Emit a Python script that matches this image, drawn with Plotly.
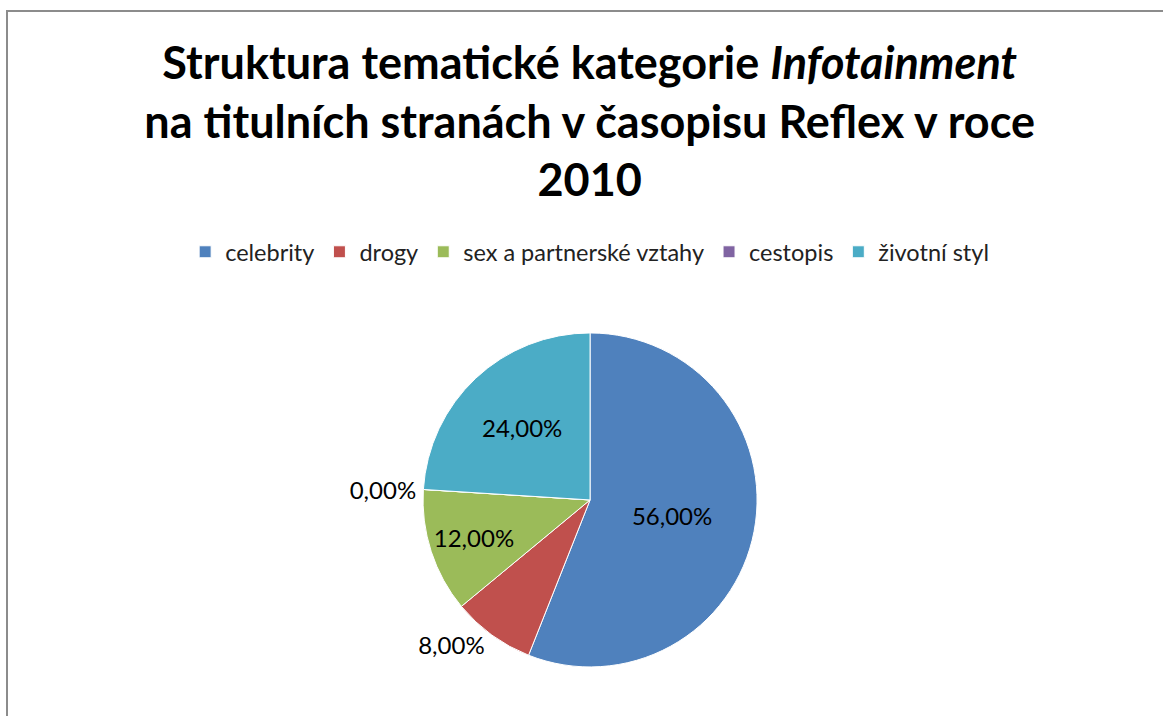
import plotly.graph_objects as go

categories = ["celebrity", "drogy", "sex a partnerské vztahy", "cestopis", "životní styl"]
values = [56, 8, 12, 0, 24]
colors = ["#4F81BD", "#C0504D", "#9BBB59", "#8064A2", "#4BACC6"]
text_positions = ["inside", "outside", "inside", "outside", "inside"]

W, H = 1163, 716
FONT = "Lato"

fig = go.Figure(go.Pie(
    labels=categories,
    values=values,
    sort=False,
    direction="clockwise",
    rotation=0,
    marker=dict(colors=colors, line=dict(color="white", width=1)),
    texttemplate="%{percent:.2%}",
    textposition=text_positions,
    insidetextorientation="horizontal",
    textfont=dict(family=FONT, size=24, color="black"),
    showlegend=True,
    hoverinfo="label+percent",
    domain=dict(x=[0.3637, 0.651], y=[0.0685, 0.535]),
))

fig.update_layout(
    width=W, height=H,
    margin=dict(l=0, r=0, t=0, b=0),
    paper_bgcolor="white",
    separators=", ",
    font=dict(family=FONT, color="black"),
    title=dict(
        text="<b>Struktura tematické kategorie <i>Infotainment</i><br>na titulních stranách v časopisu Reflex v roce<br>2010</b>",
        x=0.507, xanchor="center", y=0.889, yanchor="top",
        font=dict(family=FONT, size=45, color="black"),
    ),
    legend=dict(
        orientation="h", x=0.507, xanchor="center", y=1 - 252 / H, yanchor="middle",
        font=dict(family=FONT, size=23.5, color="#222222"),
        traceorder="normal",
    ),
    shapes=[dict(
        type="rect", xref="paper", yref="paper",
        x0=7 / W, x1=1.02, y0=-0.02, y1=1 - 11 / H,
        line=dict(color="#8c8c8c", width=2), fillcolor="rgba(0,0,0,0)",
    )],
)

fig.write_html(
    "out.html",
    config={"displayModeBar": False},
    post_script="document.body.style.margin='0';document.body.style.overflow='hidden';",
)
